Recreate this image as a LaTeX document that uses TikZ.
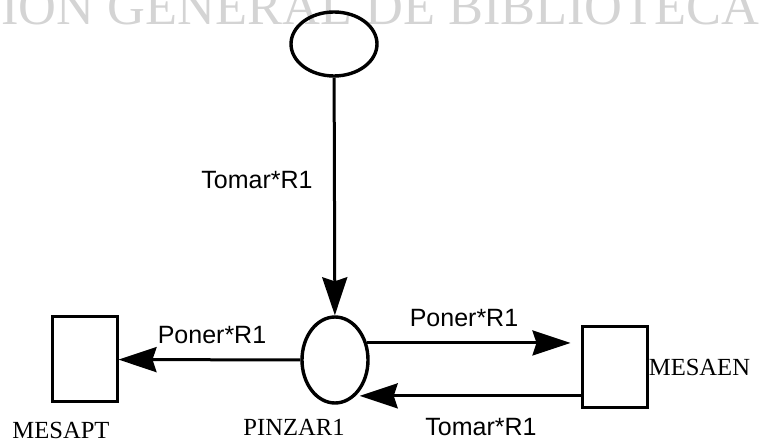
\documentclass[tikz,border=0pt]{standalone}
\usepackage{fontspec}
\setmainfont{Liberation Serif}
\newfontfamily\arialfont{Liberation Sans}
\usetikzlibrary{shapes.geometric}
\usetikzlibrary{arrows.meta}

\tikzset{
  placenode/.style = {ellipse, draw, line width=1.7pt, inner sep=0pt},
  tablebox/.style  = {rectangle, draw, line width=1.5pt, inner sep=0pt},
  arcline/.style   = {line width=1.5pt, -{Stealth[length=19pt, width=12.5pt, inset=2pt]}},
  weight/.style    = {font=\arialfont\fontsize{12.5}{14}\selectfont, inner sep=0pt},
  placename/.style = {font=\fontsize{12.3}{14}\selectfont, inner sep=0pt}
}

\begin{document}
\begin{tikzpicture}[x=0.5pt, y=-0.5pt]

  % \draw [help lines, step=50] (0,0) grid (761,443);
  \useasboundingbox (0,0) rectangle (761,443);

  % watermark of the scan
  \node (wmark) [anchor=base west, inner sep=0pt, text=black!17,
        font=\fontsize{26.2}{30}\selectfont] at (1,25) {ION GENERAL DE BIBLIOTECA};

  \path (334,44)    node (top)    [placenode, minimum width=43pt, minimum height=32pt] {}
        (335,360)   node (pinz)   [placenode, minimum width=33pt, minimum height=43pt] {}
        (84.5,359.5) node (mesapt) [tablebox, minimum width=32.5pt, minimum height=42.5pt] {}
        (614.5,367.5) node (mesaen) [tablebox, minimum width=32.5pt, minimum height=40.5pt] {};

  \draw[arcline] (top) -- (pinz);
  \draw[arcline] (pinz) -- (mesapt);
  \draw[arcline, shorten >=5pt] (pinz.28) -- (pinz.28 -| mesaen.west);
  \draw[arcline, shorten >=2pt] (pinz.-60 -| mesaen.west) -- (pinz.-60);

  % weights
  \node (wtop)   [weight] at (257,180) {Tomar*R1};
  \node (wleft)  [weight] at (212,335) {Poner*R1};
  \node (wright) [weight] at (464,318) {Poner*R1};
  \node (wback)  [weight] at (481,427) {Tomar*R1};

  % place names
  \node (lmesapt) [placename] at (61,430) {MESAPT};
  \node (lpinz)   [placename] at (294,427) {PINZAR1};
  \node (lmesaen) [placename, anchor=west] at (mesaen.east) {MESAEN};

\end{tikzpicture}
\end{document}
